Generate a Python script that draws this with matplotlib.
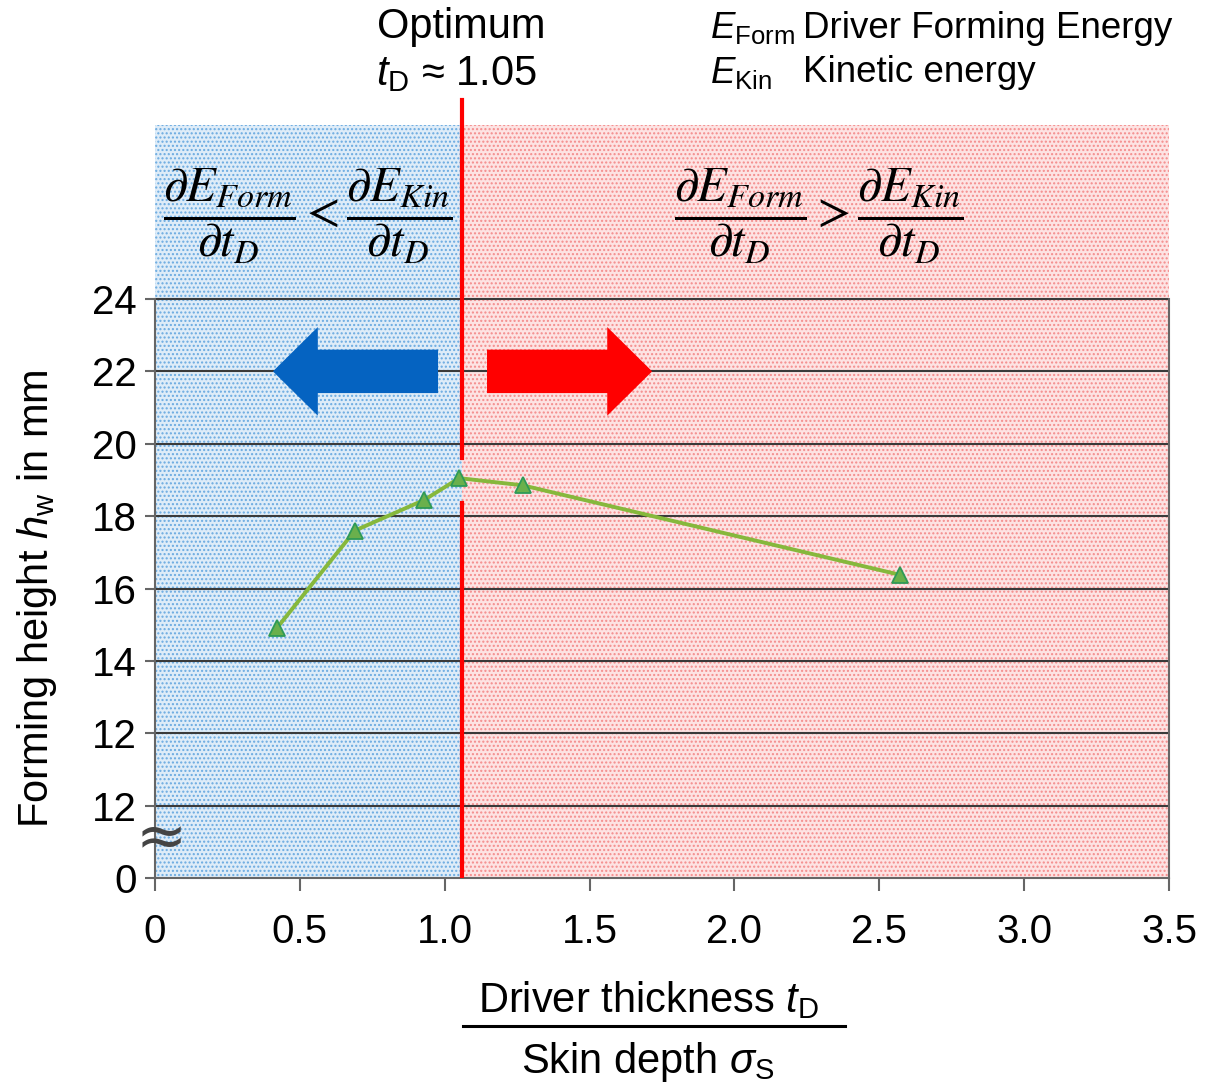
import matplotlib
matplotlib.use("Agg")
import matplotlib.pyplot as plt
from matplotlib.patches import Rectangle, FancyArrow

plt.rcParams['font.family'] = ['Liberation Sans', 'DejaVu Sans']
plt.rcParams['mathtext.fontset'] = 'custom'
plt.rcParams['mathtext.rm'] = 'Liberation Sans'
plt.rcParams['mathtext.it'] = 'Liberation Sans:italic'
plt.rcParams['mathtext.bf'] = 'Liberation Sans:bold'
plt.rcParams['hatch.linewidth'] = 1.0

# data
t_ratio = [0.42, 0.69, 0.93, 1.05, 1.27, 2.57]   # t_D / sigma_S
h_w = [14.9, 17.6, 18.45, 19.05, 18.85, 16.38]  # forming height (axis position)
t_opt = 1.06  # where the optimum line sits

x_ticks = [0, 0.5, 1.0, 1.5, 2.0, 2.5, 3.0, 3.5]
x_labels = ['0', '0.5', '1.0', '1.5', '2.0', '2.5', '3.0', '3.5']
y_ticks = [8, 10, 12, 14, 16, 18, 20, 22, 24]
y_labels = ['0', '12', '12', '14', '16', '18', '20', '22', '24']

W, H = 1216, 1089
fig = plt.figure(figsize=(W / 100, H / 100), dpi=100)

def px(x, y):
    return x / W, 1 - y / H

# axes spans the plot plus the shaded band above it
ax = fig.add_axes([155 / W, 1 - 878 / H, 1014 / W, (878 - 125) / H])
ytop = 8 + 16 * (878 - 125) / (878 - 299)
ax.set_xlim(0, 3.5)
ax.set_ylim(8, ytop)

# shaded regions
ax.add_patch(Rectangle((0, 8), t_opt, ytop - 8, facecolor='#deecf8',
                       edgecolor='#6aaae0', hatch='....', lw=0, zorder=0))
ax.add_patch(Rectangle((t_opt, 8), 3.5 - t_opt, ytop - 8, facecolor='#fde3e3',
                       edgecolor='#f48c8c', hatch='....', lw=0, zorder=0))

# horizontal grid lines
for yv in y_ticks[1:]:
    ax.axhline(yv, color='#3a3a3a', lw=1.5, zorder=1)

# optimum line (with a small gap around the peak)
ax.plot([t_opt, t_opt], [8, 18.36], color='#ff0000', lw=3, zorder=3)
ax.plot([t_opt, t_opt], [19.6, 8 + (878 - 100) / 36.19], color='#ff0000', lw=3,
        zorder=3, clip_on=False)

# arrows
ax.add_patch(FancyArrow(0.977, 22, -0.57, 0, width=1.2, head_width=2.45,
                        head_length=0.155, length_includes_head=True,
                        color='#0563c1', lw=0, zorder=4))
ax.add_patch(FancyArrow(1.146, 22, 0.57, 0, width=1.2, head_width=2.45,
                        head_length=0.155, length_includes_head=True,
                        color='#ff0000', lw=0, zorder=4))

# data
ax.plot(t_ratio, h_w, color='#86b83c', lw=2.8, marker='^', markersize=11,
        markerfacecolor='#6ab04c', markeredgecolor='#2e9a57',
        markeredgewidth=1.3, zorder=5)

# axes styling
ax.spines['top'].set_visible(False)
ax.spines['left'].set_bounds(8, 24)
ax.spines['right'].set_bounds(8, 24)
for s in ['left', 'right', 'bottom']:
    ax.spines[s].set_color('#666666')
    ax.spines[s].set_linewidth(1.5)
ax.set_xticks(x_ticks)
ax.set_xticklabels(x_labels, fontsize=29)
ax.set_yticks(y_ticks)
ax.set_yticklabels(y_labels, fontsize=29)
ax.tick_params(axis='x', length=9, width=1.5, color='#666666', pad=16)
ax.tick_params(axis='y', length=7, width=1.5, color='#666666', pad=6)

# axis break mark
ax.text(0.02, 9.05, '≈', fontsize=44, color='#444444', ha='center', va='center',
        family='DejaVu Sans', zorder=6, clip_on=False)

fig.text(*px(37, 599), r'Forming height $h_{\mathrm{w}}$ in mm', fontsize=30,
         rotation=90, ha='center', va='center')

# x label as a fraction
fig.text(*px(648, 1000), r'Driver thickness $t_{\mathrm{D}}$', fontsize=30,
         ha='center', va='center')
fig.add_artist(plt.Line2D([463 / W, 845 / W], [1 - 1026 / H] * 2,
                          color='black', lw=2.2))
fig.text(*px(648, 1062), r'Skin depth $\sigma_{\mathrm{S}}$', fontsize=30,
         ha='center', va='center')

# optimum annotation
fig.text(*px(461, 27), 'Optimum', fontsize=30, ha='center', va='center')
fig.text(*px(457, 74), r'$t_{\mathrm{D}}$ ≈ 1.05', fontsize=30,
         ha='center', va='center')

# legend
fig.text(*px(710, 28), r'$E_{\mathrm{Form}}$', fontsize=26.5, ha='left', va='center')
fig.text(*px(803, 28), 'Driver Forming Energy', fontsize=26.5, ha='left', va='center')
fig.text(*px(710, 73), r'$E_{\mathrm{Kin}}$', fontsize=26.5, ha='left', va='center')
fig.text(*px(803, 73), 'Kinetic energy', fontsize=26.5, ha='left', va='center')

# derivative relations
fig.text(*px(308, 216),
         r'$\dfrac{\partial E_{Form}}{\partial t_D} < \dfrac{\partial E_{Kin}}{\partial t_D}$',
         fontsize=35, ha='center', va='center', math_fontfamily='stix')
fig.text(*px(819, 216),
         r'$\dfrac{\partial E_{Form}}{\partial t_D} > \dfrac{\partial E_{Kin}}{\partial t_D}$',
         fontsize=35, ha='center', va='center', math_fontfamily='stix')

fig.savefig('out.png', dpi=100)
